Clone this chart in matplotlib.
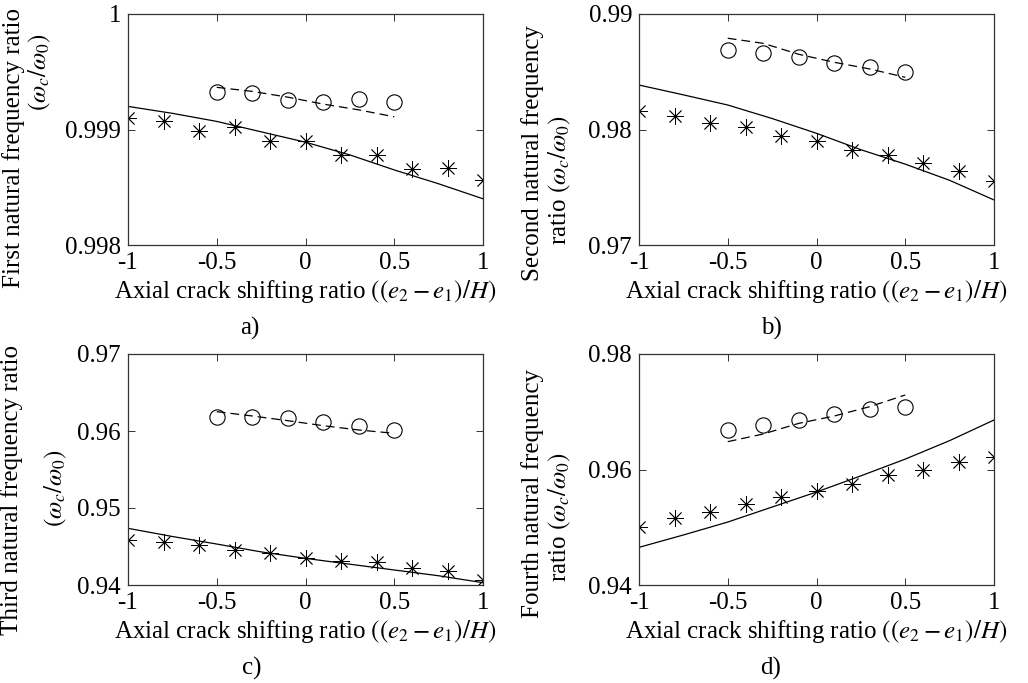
import matplotlib

matplotlib.use("Agg")
import matplotlib.pyplot as plt

plt.rcParams["font.family"] = ["Liberation Serif", "DejaVu Serif"]
plt.rcParams["mathtext.fontset"] = "stix"
plt.rcParams["axes.unicode_minus"] = False

# sample positions along the crack shifting ratio
x_star = [-1.0, -0.8, -0.6, -0.4, -0.2, 0.0, 0.2, 0.4, 0.6, 0.8, 1.0]
x_circ = [-0.5, -0.3, -0.1, 0.1, 0.3, 0.5]
x_solid = [-1.0, -0.75, -0.5, -0.25, 0.0, 0.25, 0.5, 0.75, 1.0]

# a) first natural frequency ratio
a_star = [0.99910, 0.99907, 0.99899, 0.99902, 0.99890, 0.99890,
          0.99878, 0.99878, 0.99866, 0.99867, 0.99856]
a_circ = [0.999328, 0.999313, 0.999255, 0.999241, 0.999261, 0.999241]
a_dash = [0.999365, 0.99933, 0.99928, 0.99922, 0.99917, 0.99911]
a_solid = [0.99920, 0.99914, 0.99907, 0.99898, 0.99889,
           0.99878, 0.99865, 0.99853, 0.99840]

# b) second natural frequency ratio
b_star = [0.9816, 0.9812, 0.9806, 0.9802, 0.9794, 0.9790,
          0.9782, 0.9778, 0.9771, 0.9764, 0.9755]
b_circ = [0.9869, 0.9866, 0.9863, 0.9858, 0.9854, 0.9850]
b_dash = [0.98790, 0.98746, 0.98651, 0.98582, 0.98524, 0.98452]
b_solid = [0.98385, 0.98300, 0.98212, 0.98095, 0.97967,
           0.97825, 0.97700, 0.97560, 0.97390]

# c) third natural frequency ratio
c_star = [0.9458, 0.9456, 0.9452, 0.94455, 0.9441, 0.94346,
          0.94316, 0.9430, 0.94225, 0.94182, 0.9407]
c_circ = [0.96186, 0.96177, 0.96165, 0.96121, 0.96065, 0.96013]
c_dash = [0.96251, 0.96195, 0.96134, 0.96069, 0.96013, 0.95970]
c_solid = [0.94736, 0.94630, 0.94532, 0.94430, 0.94346,
           0.94270, 0.94195, 0.94120, 0.94030]

# d) fourth natural frequency ratio
d_star = [0.9501, 0.95155, 0.9527, 0.95397, 0.95518, 0.95633,
          0.95749, 0.95905, 0.95991, 0.96136, 0.96211]
d_circ = [0.96684, 0.96771, 0.96857, 0.96955, 0.97048, 0.97088]
d_dash = [0.96482, 0.96615, 0.96799, 0.96926, 0.97088, 0.97290]
d_solid = [0.94652, 0.94866, 0.95090, 0.95350, 0.95610,
           0.95890, 0.96180, 0.96500, 0.96857]

x_ticks = [-1, -0.5, 0, 0.5, 1]
x_ticklabels = ["-1", "-0.5", "0", "0.5", "1"]
y_ticks = {
    "a": ([0.998, 0.999, 1.0], ["0.998", "0.999", "1"]),
    "b": ([0.97, 0.98, 0.99], ["0.97", "0.98", "0.99"]),
    "c": ([0.94, 0.95, 0.96, 0.97], ["0.94", "0.95", "0.96", "0.97"]),
    "d": ([0.94, 0.96, 0.98], ["0.94", "0.96", "0.98"]),
}

XLABEL = r"Axial crack shifting ratio $((e_2 - e_1)/H)$"
RATIO = r"$(\omega_c/\omega_0)$"
FS = 18
W, H = 1028, 683

fig = plt.figure(figsize=(W / 100, H / 100), dpi=100)


def px_axes(left, top, right, bottom):
    return fig.add_axes([left / W, 1 - bottom / H, (right - left) / W, (bottom - top) / H])


def draw_panel(ax, key, star, circ, dash, solid):
    ax.plot(x_solid, solid, color="black", lw=0.9)
    ax.plot(x_circ, dash, color="black", lw=0.9, linestyle=(0, (7, 4)))
    ax.plot(x_star, star, linestyle="none", marker=(8, 2, 0), markersize=12,
            markeredgewidth=0.6, color="black")
    ax.plot(x_circ, circ, linestyle="none", marker="o", markersize=11,
            markerfacecolor="none", markeredgewidth=0.8, markeredgecolor="black")
    ticks, labels = y_ticks[key]
    ax.set_xlim(-1, 1)
    ax.set_ylim(ticks[0], ticks[-1])
    ax.set_xticks(x_ticks)
    ax.set_xticklabels(x_ticklabels)
    ax.set_yticks(ticks)
    ax.set_yticklabels(labels)
    ax.tick_params(direction="in", top=True, right=True, length=5, width=0.7,
                   labelsize=FS, pad=5, color="#333333")
    for s in ax.spines.values():
        s.set_linewidth(0.9)
        s.set_color("#333333")
    ax.set_xlabel(XLABEL, fontsize=FS, labelpad=3)


ax_a = px_axes(128, 14, 483, 245)
ax_b = px_axes(639, 14, 994, 245)
ax_c = px_axes(128, 354, 483, 585)
ax_d = px_axes(639, 354, 994, 585)

draw_panel(ax_a, "a", a_star, a_circ, a_dash, a_solid)
draw_panel(ax_b, "b", b_star, b_circ, b_dash, b_solid)
draw_panel(ax_c, "c", c_star, c_circ, c_dash, c_solid)
draw_panel(ax_d, "d", d_star, d_circ, d_dash, d_solid)

# y labels are placed by hand, two lines each
ylabels = [
    ("First natural frequency ratio", 14, 148),
    (RATIO, 40, 72),
    ("Second natural frequency", 533, 153),
    ("ratio " + RATIO, 560, 180),
    ("Third natural frequency ratio", 12, 490),
    (RATIO, 56, 488),
    ("Fourth natural frequency", 533, 493),
    ("ratio " + RATIO, 560, 517),
]
for text, px, py in ylabels:
    fig.text(px / W, 1 - py / H, text, rotation=90, ha="center", va="center", fontsize=FS)

for text, px, py in [("a)", 250, 328), ("b)", 771, 328), ("c)", 252, 668), ("d)", 771, 668)]:
    fig.text(px / W, 1 - py / H, text, ha="center", va="center", fontsize=FS)

fig.savefig("out.png", dpi=100)
